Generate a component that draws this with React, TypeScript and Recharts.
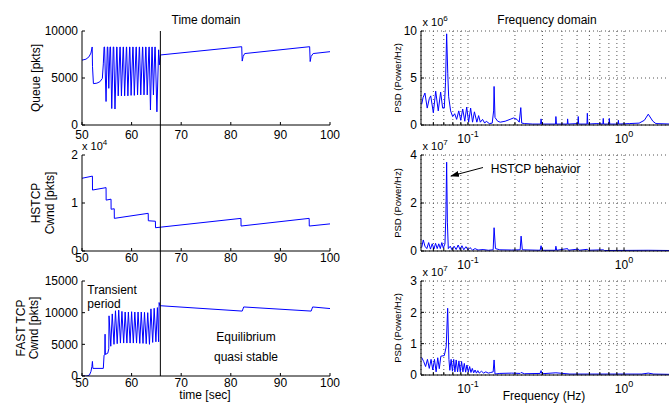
import { CartesianGrid, Line, LineChart, XAxis, YAxis } from "recharts";

const FONT = '"Liberation Sans", Arial, Helvetica, sans-serif';
const BLUE = "#0000ff";

// time domain: [time (sec), value (pkts)]
const queuePts: [number, number][] = [
  [50, 6900], [50.8, 7000], [51.4, 7250], [51.8, 7650], [52.05, 8300], [52.12, 6200], [52.3, 4400],
  [53.0, 4450], [53.6, 4600], [54.1, 4950], [54.3, 6500], [54.45, 8300], [54.55, 8300], [54.85, 2500],
  [55.1, 8300], [55.2, 8300], [55.4, 3900], [55.65, 8300], [55.75, 8300], [56.0, 1750], [56.3, 8300],
  [56.4, 8300], [56.65, 1700], [57.0, 8300], [57.05, 8300], [57.3, 3100], [57.65, 8300], [57.7, 8300],
  [57.95, 3100], [58.3, 8300], [58.35, 8300], [58.6, 3100], [58.95, 8300], [59.0, 8300], [59.25, 3100],
  [59.6, 8300], [59.65, 8300], [59.9, 3150], [60.25, 8300], [60.3, 8300], [60.55, 3150], [60.9, 8300],
  [60.95, 8300], [61.2, 3200], [61.55, 8300], [61.6, 8300], [61.85, 3200], [62.2, 8300], [62.25, 8300],
  [62.5, 3200], [62.85, 8300], [62.9, 8300], [63.15, 3200], [63.5, 8300], [63.55, 8300], [63.8, 1600],
  [64.1, 8300], [64.15, 8300], [64.4, 3200], [64.7, 8300], [64.75, 8300], [65.1, 1400], [65.45, 8000],
  [65.6, 6400], [65.8, 7450], [82.2, 8330], [82.3, 6800], [82.5, 7300], [82.8, 7600], [95.9, 8330],
  [96.0, 6750], [96.2, 7300], [96.6, 7600], [100, 7800],
];

const hstcpPts: [number, number][] = [
  [50, 15150], [52.1, 15600], [52.12, 12700], [54.85, 13200], [54.87, 10600], [55.85, 10800],
  [55.87, 8700], [56.5, 8800], [56.52, 6800], [63.35, 7850], [63.37, 6300], [64.8, 6200],
  [64.82, 4850], [82.05, 6800], [82.07, 5200], [95.8, 6800], [95.82, 5200], [100, 5650],
];

const fastPts: [number, number][] = [
  [50, 0], [51.0, 0], [51.5, 150], [51.8, 700], [52.0, 1500], [52.1, 2300], [52.2, 1200], [54.3, 1200],
  [54.45, 3300], [54.6, 3400], [54.65, 6600], [54.7, 3400], [55.2, 3600], [55.4, 4300], [55.45, 9500],
  [55.8, 4700], [56.1, 9800], [56.45, 5000], [56.75, 10300], [57.1, 5100], [57.4, 10400], [57.75, 5200],
  [58.05, 10200], [58.4, 5200], [58.7, 10100], [59.05, 5200], [59.35, 10100], [59.7, 5200],
  [60.0, 10150], [60.35, 5200], [60.65, 10100], [61.0, 5200], [61.3, 10100], [61.65, 5150],
  [61.95, 10100], [62.3, 5150], [62.6, 10050], [62.95, 5100], [63.25, 10000], [63.6, 5000],
  [63.9, 10600], [64.25, 5300], [64.55, 10700], [64.9, 5400], [65.2, 10800], [65.45, 5400],
  [65.55, 11600], [65.7, 11100], [82.3, 10250], [82.6, 10900], [96.2, 10250], [96.5, 10900], [100, 10650],
];

// frequency domain: [frequency (Hz), PSD (x10^6 / x10^7)]
const psdQueue: [number, number][] = [
  [0.0505, 2.2], [0.0515, 2.9], [0.053, 3.4], [0.0548, 1.8], [0.0565, 2.8], [0.0577, 3.1], [0.06, 1.3],
  [0.0621, 3.6], [0.0645, 1.5], [0.0668, 3.5], [0.0688, 1.8], [0.0705, 1.8], [0.0718, 4.5], [0.073, 9.7],
  [0.0742, 5.5], [0.0752, 3.0], [0.0774, 1.5], [0.0798, 0.9], [0.0822, 1.2], [0.0846, 0.6], [0.0873, 1.5],
  [0.0899, 0.5], [0.0925, 1.7], [0.0954, 0.4], [0.0981, 1.9], [0.101, 0.3], [0.104, 1.8], [0.107, 0.3],
  [0.11, 1.4], [0.114, 0.3], [0.117, 1.0], [0.12, 0.3], [0.124, 0.6], [0.128, 0.2], [0.131, 0.4],
  [0.137, 0.15], [0.143, 0.2], [0.146, 1.5], [0.147, 4.1], [0.149, 0.8], [0.155, 0.4], [0.161, 0.3],
  [0.173, 0.4], [0.186, 0.6], [0.196, 0.75], [0.206, 0.6], [0.213, 0.3], [0.218, 1.85], [0.221, 0.2],
  [0.231, 0.15], [0.26, 0.1], [0.292, 0.1], [0.294, 0.65], [0.297, 0.1], [0.364, 0.1], [0.366, 0.9],
  [0.369, 0.1], [0.433, 0.1], [0.435, 0.65], [0.438, 0.1], [0.506, 0.15], [0.509, 0.9], [0.512, 0.1],
  [0.579, 0.1], [0.582, 1.25], [0.586, 0.1], [0.67, 0.15], [0.732, 0.1], [0.736, 0.7], [0.74, 0.1],
  [0.8, 0.1], [0.805, 0.7], [0.81, 0.1], [0.915, 0.1], [0.92, 0.5], [0.925, 0.1], [1.08, 0.15],
  [1.25, 0.2], [1.35, 0.5], [1.43, 1.15], [1.53, 0.4], [1.6, 0.15], [2.0, 0.1],
];

const psdHstcp: [number, number][] = [
  [0.0505, 0.15], [0.0517, 0.46], [0.053, 0.2], [0.0545, 0.1], [0.056, 0.35], [0.0575, 0.08],
  [0.059, 0.3], [0.0605, 0.08], [0.062, 0.32], [0.0635, 0.1], [0.065, 0.3], [0.0665, 0.1], [0.068, 0.35],
  [0.0695, 0.12], [0.0712, 0.3], [0.0722, 1.5], [0.073, 3.7], [0.0738, 1.2], [0.0748, 0.1], [0.077, 0.2],
  [0.079, 0.05], [0.0815, 0.2], [0.084, 0.06], [0.0865, 0.25], [0.089, 0.06], [0.0915, 0.22],
  [0.094, 0.05], [0.097, 0.18], [0.1, 0.05], [0.103, 0.14], [0.107, 0.04], [0.111, 0.1], [0.116, 0.04],
  [0.125, 0.06], [0.135, 0.03], [0.145, 0.05], [0.147, 0.97], [0.15, 0.1], [0.16, 0.05], [0.19, 0.04],
  [0.216, 0.05], [0.219, 0.62], [0.223, 0.05], [0.29, 0.03], [0.294, 0.22], [0.298, 0.03], [0.363, 0.03],
  [0.366, 0.2], [0.37, 0.03], [0.435, 0.1], [0.44, 0.03], [0.509, 0.08], [0.515, 0.03], [0.582, 0.07],
  [0.59, 0.03], [0.736, 0.05], [0.75, 0.02], [1.43, 0.03], [2.0, 0.02],
];

const psdFast: [number, number][] = [
  [0.0505, 0.56], [0.052, 0.43], [0.0535, 0.27], [0.055, 0.5], [0.0565, 0.21], [0.058, 0.5],
  [0.0595, 0.16], [0.061, 0.5], [0.0625, 0.1], [0.064, 0.55], [0.0655, 0.2], [0.067, 0.6], [0.0705, 0.62],
  [0.0725, 0.9], [0.0741, 2.13], [0.0755, 0.5], [0.0765, 0.15], [0.078, 0.5], [0.0795, 0.12], [0.081, 0.5],
  [0.0825, 0.1], [0.084, 0.48], [0.0858, 0.1], [0.0875, 0.45], [0.0892, 0.1], [0.091, 0.43], [0.0928, 0.1],
  [0.0947, 0.37], [0.0966, 0.09], [0.0985, 0.32], [0.1005, 0.09], [0.1025, 0.27], [0.1045, 0.08],
  [0.1066, 0.21], [0.1088, 0.07], [0.111, 0.16], [0.1133, 0.06], [0.1156, 0.14], [0.118, 0.06],
  [0.122, 0.12], [0.126, 0.06], [0.13, 0.1], [0.135, 0.06], [0.14, 0.08], [0.145, 0.1], [0.147, 0.48],
  [0.149, 0.03], [0.16, 0.05], [0.19, 0.06], [0.216, 0.05], [0.219, 0.08], [0.23, 0.04], [0.29, 0.05],
  [0.294, 0.14], [0.298, 0.04], [0.366, 0.07], [0.45, 0.03], [1.3, 0.03], [1.43, 0.06], [1.55, 0.03],
  [2.0, 0.02],
];

const timeTicks = [50, 60, 70, 80, 90, 100];
const queueTicks = [0, 5000, 10000];
const hstcpTicks = [0, 10000, 20000];
const fastTicks = [0, 5000, 10000, 15000];
const freqTicks = [0.06, 0.07, 0.08, 0.09, 0.1, 0.2, 0.3, 0.4, 0.5, 0.6, 0.7, 0.8, 0.9, 1, 2];
const psdQueueTicks = [0, 5, 10];
const psdHstcpTicks = [0, 2, 4];
const psdFastTicks = [0, 1, 2, 3];
const eqStart = 65.8; // start of equilibrium, vertical marker

const AX_W = 60;
const AX_H = 30;
const PAD = 6;
const PAD_R = 20;

const LogTick = (props: any) => {
  const { x, y, payload } = props;
  const v = payload.value;
  const e = Math.round(Math.log10(v));
  if (Math.abs(v / Math.pow(10, e) - 1) > 1e-6) return <g />;
  return (
    <text x={x} y={y + 11.5} textAnchor="middle" fontSize={12} fill="#000">
      10<tspan dy={-6} fontSize={9}>{e}</tspan>
    </text>
  );
};

const noTick = () => <g />;

function Panel(p: any) {
  const data = p.pts.map(([a, b]: [number, number]) => ({ x: a, y: b }));
  const scale = p.log ? "log" : "linear";
  return (
    <div style={{ position: "absolute", left: p.x - AX_W, top: p.y - PAD }}>
      <LineChart
        width={AX_W + p.w + PAD_R}
        height={PAD + p.h + AX_H}
        data={data}
        margin={{ top: PAD, right: PAD_R, left: 0, bottom: 0 }}
      >
        {p.grid && <CartesianGrid stroke="#555" strokeDasharray="1 3" />}
        <XAxis
          dataKey="x"
          type="number"
          scale={scale}
          domain={p.xDomain}
          ticks={p.xTicks}
          interval={0}
          allowDataOverflow
          height={AX_H}
          stroke="#000"
          tickSize={-3}
          tickMargin={p.xMargin}
          tick={p.log ? <LogTick /> : { fill: "#000", fontSize: 12 }}
        />
        <XAxis
          xAxisId="top"
          orientation="top"
          dataKey="x"
          type="number"
          scale={scale}
          domain={p.xDomain}
          ticks={p.xTicks}
          interval={0}
          allowDataOverflow
          height={0}
          stroke="#000"
          tickSize={-3}
          tick={noTick}
        />
        <YAxis
          type="number"
          domain={p.yDomain}
          ticks={p.yTicks}
          interval={0}
          allowDataOverflow
          width={AX_W}
          stroke="#000"
          tickSize={-3}
          tickMargin={7}
          tick={{ fill: "#000", fontSize: 12 }}
          tickFormatter={p.yFmt}
        />
        <YAxis
          yAxisId="right"
          orientation="right"
          type="number"
          domain={p.yDomain}
          ticks={p.yTicks}
          interval={0}
          allowDataOverflow
          width={0}
          stroke="#000"
          tickSize={-3}
          tick={noTick}
        />
        <Line
          type="linear"
          dataKey="y"
          stroke={BLUE}
          strokeWidth={1}
          dot={false}
          isAnimationActive={false}
        />
      </LineChart>
    </div>
  );
}

const L = { x: 82, w: 248 };
const R = { x: 421, w: 250 };
const eqX = L.x + ((eqStart - 50) / 50) * L.w;

const Exp = ({ x, y, e }: { x: number; y: number; e: string }) => (
  <text x={x} y={y} fontSize={11}>
    x 10<tspan dy={-5} fontSize={8}>{e}</tspan>
  </text>
);

const YLab = ({ x, y, t, size = 12 }: { x: number; y: number; t: string; size?: number }) => (
  <text x={x} y={y} fontSize={size} textAnchor="middle" transform={`rotate(-90 ${x} ${y})`}>
    {t}
  </text>
);

export default function App() {
  const fmt4 = (v: number) => String(v / 10000);
  return (
    <div
      style={{
        position: "absolute",
        left: 0,
        top: 0,
        width: 669,
        height: 404,
        overflow: "hidden",
        background: "#fff",
        fontFamily: FONT,
      }}
    >
      <Panel {...L} y={31} h={94} pts={queuePts} xDomain={[50, 100]} xTicks={timeTicks} yDomain={[0, 10000]} yTicks={queueTicks} xMargin={8.5} />
      <Panel {...L} y={155} h={96} pts={hstcpPts} xDomain={[50, 100]} xTicks={timeTicks} yDomain={[0, 20000]} yTicks={hstcpTicks} yFmt={fmt4} xMargin={5} />
      <Panel {...L} y={281} h={95} pts={fastPts} xDomain={[50, 100]} xTicks={timeTicks} yDomain={[0, 15000]} yTicks={fastTicks} xMargin={5} />
      <Panel {...R} y={31} h={94} pts={psdQueue} log grid xDomain={[0.05, 2]} xTicks={freqTicks} yDomain={[0, 10]} yTicks={psdQueueTicks} xMargin={9} />
      <Panel {...R} y={155} h={96} pts={psdHstcp} log grid xDomain={[0.05, 2]} xTicks={freqTicks} yDomain={[0, 4]} yTicks={psdHstcpTicks} xMargin={9} />
      <Panel {...R} y={281} h={94} pts={psdFast} log grid xDomain={[0.05, 2]} xTicks={freqTicks} yDomain={[0, 3]} yTicks={psdFastTicks} xMargin={9} />

      <svg
        width={669}
        height={404}
        style={{ position: "absolute", left: 0, top: 0, pointerEvents: "none", fontFamily: FONT }}
      >
        <defs>
          <marker id="ah" markerWidth="9" markerHeight="6" refX="8" refY="3" orient="auto" markerUnits="userSpaceOnUse">
            <path d="M0,0 L9,3 L0,6 z" fill="#000" />
          </marker>
        </defs>
        <line x1={eqX} y1={31} x2={eqX} y2={376} stroke="#000" strokeWidth={1} />

        <text x={206} y={24} fontSize={12} textAnchor="middle">Time domain</text>
        <text x={547} y={24} fontSize={12} textAnchor="middle">Frequency domain</text>

        <YLab x={39.5} y={78} t="Queue [pkts]" />
        <YLab x={40} y={203} t="HSTCP" />
        <YLab x={54} y={203} t="Cwnd [pkts]" />
        <YLab x={25} y={328} t="FAST TCP" />
        <YLab x={38} y={328} t="Cwnd [pkts]" />
        <YLab x={400.5} y={78} t="PSD (Power/Hz)" size={9.5} />
        <YLab x={400.5} y={203} t="PSD (Power/Hz)" size={9.5} />
        <YLab x={400.5} y={328} t="PSD (Power/Hz)" size={9.5} />

        <Exp x={82} y={150} e="4" />
        <Exp x={422.5} y={26} e="6" />
        <Exp x={422.5} y={150} e="7" />
        <Exp x={422.5} y={276} e="7" />

        <text x={87.3} y={294} fontSize={12}>Transient</text>
        <text x={87.3} y={307.5} fontSize={12}>period</text>
        <text x={246} y={340.5} fontSize={12} textAnchor="middle">Equilibrium</text>
        <text x={246} y={360.5} fontSize={12} textAnchor="middle">quasi stable</text>
        <text x={205} y={399} fontSize={12} textAnchor="middle">time [sec]</text>
        <text x={544} y={400} fontSize={12} textAnchor="middle">Frequency (Hz)</text>

        <text x={490.7} y={173} fontSize={12}>HSTCP behavior</text>
        <line x1={483} y1={167.5} x2={451} y2={176} stroke="#000" strokeWidth={1} markerEnd="url(#ah)" />
      </svg>
    </div>
  );
}
